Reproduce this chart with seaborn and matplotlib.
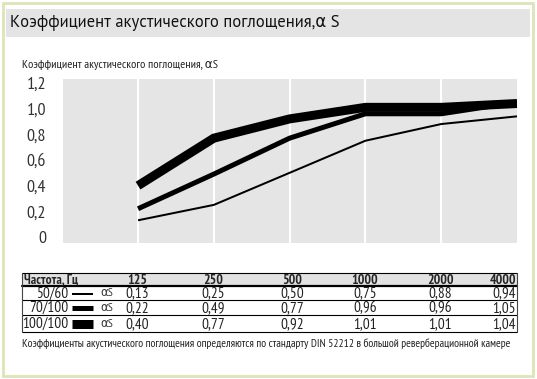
import pandas as pd
import matplotlib
matplotlib.use('Agg')
import matplotlib.pyplot as plt
from matplotlib.lines import Line2D
from matplotlib.patches import Rectangle
import seaborn as sns

# data
freqs = ['125', '250', '500', '1000', '2000', '4000']
series = ['50/60', '70/100', '100/100']
vals_50_60 = [0.13, 0.25, 0.50, 0.75, 0.88, 0.94]
vals_70_100 = [0.22, 0.49, 0.77, 0.96, 0.96, 1.05]
vals_100_100 = [0.40, 0.77, 0.92, 1.01, 1.01, 1.04]
y_ticks = [0, 0.2, 0.4, 0.6, 0.8, 1.0, 1.2]
y_tick_labels = ['0', '0,2', '0,4', '0,6', '0,8', '1,0', '1,2']

title = 'Коэффициент акустического поглощения,α S'
y_title = 'Коэффициент акустического поглощения, αS'
table_head = 'Частота, Гц'
footnote = ('Коэффициенты акустического поглощения определяются по стандарту '
            'DIN 52212 в большой реверберационной камере')

W, H = 537, 379
line_px = [2, 5, 9]

sns.set_style('darkgrid', {'axes.facecolor': '#e5e5e5', 'grid.color': 'white'})
plt.rcParams['font.family'] = ['PT Sans', 'DejaVu Sans']
narrow = ['PT Sans Narrow', 'DejaVu Sans']

fig = plt.figure(figsize=(W / 100, H / 100), dpi=100)
fig.patch.set_facecolor('white')


def fx(x):
    return x / W


def fy(y):
    return 1 - y / H


# frame and title bar
fig.add_artist(Rectangle((fx(3), fy(376)), fx(530), 373 / H, transform=fig.transFigure,
                         facecolor='none', edgecolor='#dfe4b8', linewidth=2))
fig.add_artist(Rectangle((fx(6), fy(37)), fx(524), 28 / H, transform=fig.transFigure,
                         facecolor='#e4e4e4', edgecolor='none'))
fig.text(fx(10), fy(23), title, fontsize=12, va='center', ha='left', color='#111111')
fig.text(fx(22), fy(65), y_title, fontsize=8.7, family=narrow,
         va='center', ha='left', color='#222222')

# chart
ax = fig.add_axes([fx(63), fy(243), fx(454), 164 / H])
df = pd.DataFrame({
    'pos': list(range(1, 7)) * 3,
    'value': vals_50_60 + vals_70_100 + vals_100_100,
    'series': [s for s in series for _ in freqs],
})
for s, lw in zip(series, line_px):
    sns.lineplot(data=df[df['series'] == s], x='pos', y='value', ax=ax,
                 color='black', linewidth=lw * 0.72, legend=False,
                 solid_joinstyle='miter', solid_capstyle='butt')

ax.set_xlim(0.01, 6)
ax.set_ylim(-0.047, 1.231)
ax.set_xticks(range(1, 6))
ax.set_xticklabels([])
ax.set_yticks(y_ticks)
ax.set_yticklabels(y_tick_labels, family=narrow, fontsize=13, color='#333333')
ax.set_yticks(y_ticks[1:-1], minor=True)
ax.grid(False, axis='y', which='major')
ax.grid(True, axis='y', which='minor', color='white', linewidth=1.5)
ax.grid(True, axis='x', which='major', color='white', linewidth=1.5)
ax.tick_params(axis='both', which='both', length=0)
ax.tick_params(axis='y', pad=12)
ax.set_xlabel('')
ax.set_ylabel('')
for sp in ax.spines.values():
    sp.set_visible(False)

# table
tl, tr = 22, 517
rows_y = [273, 286, 300, 315, 332]
col_x = [137, 213, 292, 365, 440, 516]
fig.add_artist(Rectangle((fx(tl), fy(286)), fx(tr - tl), 13 / H, transform=fig.transFigure,
                         facecolor='#e2e2e2', edgecolor='none'))
for i, yy in enumerate(rows_y):
    lw = 1.6 if i == 1 else 0.8
    fig.add_artist(Line2D([fx(tl), fx(tr)], [fy(yy), fy(yy)], transform=fig.transFigure,
                          color='black', linewidth=lw))
for xx in (tl, tr):
    fig.add_artist(Line2D([fx(xx), fx(xx)], [fy(273), fy(332)], transform=fig.transFigure,
                          color='#444444', linewidth=0.8))

fig.text(fx(24), fy(280), table_head, fontsize=9.5, weight='bold', family=narrow,
         va='center', ha='left')
for i, f in enumerate(freqs):
    ha = 'right' if i == len(freqs) - 1 else 'center'
    fig.text(fx(col_x[i]), fy(280), f, fontsize=10, weight='bold', family=narrow,
             va='center', ha=ha)

for r, (s, vals, lw) in enumerate(zip(series, [vals_50_60, vals_70_100, vals_100_100], line_px)):
    yc = fy((rows_y[r + 1] + rows_y[r + 2]) / 2 + 0.5)
    fig.text(fx(68), yc, s, fontsize=11, family=narrow, va='center', ha='right', color='#222222')
    fig.add_artist(Line2D([fx(72), fx(93)], [yc, yc], transform=fig.transFigure,
                          color='black', linewidth=lw * 0.72, solid_capstyle='butt'))
    fig.text(fx(100), yc, 'αS', fontsize=8.5, family=narrow, va='center', ha='left', color='#333333')
    for i, v in enumerate(vals):
        ha = 'right' if i == len(vals) - 1 else 'center'
        fig.text(fx(col_x[i]), yc, f'{v:.2f}'.replace('.', ','), fontsize=11, family=narrow,
                 va='center', ha=ha, color='#222222')

fig.text(fx(22), fy(344), footnote, fontsize=8.3, family=narrow, va='center', ha='left',
         color='#222222')

fig.savefig('out.png', dpi=100)
